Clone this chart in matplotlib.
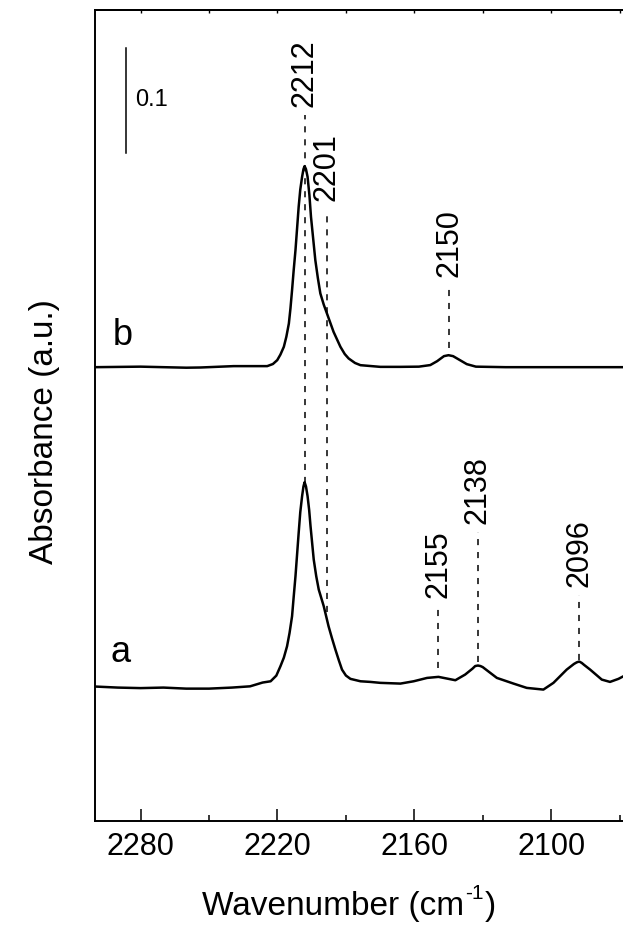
import matplotlib
matplotlib.use("Agg")
import matplotlib.pyplot as plt
from matplotlib.ticker import MultipleLocator

plt.rcParams["font.family"] = ["Liberation Sans", "DejaVu Sans"]

# spectrum a (baseline-corrected absorbance)
a_wn = [2300, 2290, 2280, 2270, 2260, 2250, 2240, 2232, 2226.5, 2223, 2220.5,
        2218.7, 2217.2, 2215.8, 2214.7, 2213.6, 2212.9, 2212.1, 2210.7, 2210.0,
        2209.2, 2208.6, 2208.1, 2207.5, 2206.8, 2206.1, 2205.5, 2204.1, 2203.0,
        2201.9, 2199.7, 2197.6, 2196.1, 2194.6, 2193.1, 2191.7, 2190.0, 2188.0,
        2183.6, 2179.3, 2174.9, 2166.1, 2160.3, 2154.4, 2149.4, 2145.7, 2142.0,
        2137.7, 2134.5, 2133.3, 2132.1, 2131.0, 2130.0, 2128.2, 2123.8, 2116.5,
        2110.7, 2103.4, 2099.0, 2093.2, 2090.0, 2088.8, 2087.7, 2086.6, 2085.5,
        2082.9, 2077.8, 2074.2, 2070.5, 2068.3]
a_abs = [0.001, 0.000, -0.0005, 0.000, -0.001, -0.001, 0.000, 0.0012, 0.0048,
         0.006, 0.0114, 0.0203, 0.0285, 0.0393, 0.052, 0.0679, 0.086, 0.106,
         0.1473, 0.167, 0.1822, 0.1915, 0.1955, 0.1915, 0.1822, 0.169, 0.1536,
         0.1219, 0.106, 0.0933, 0.0774, 0.0584, 0.047, 0.0362, 0.026, 0.0171,
         0.0115, 0.0083, 0.006, 0.0054, 0.0045, 0.0038, 0.006, 0.0092, 0.0102,
         0.0086, 0.007, 0.0124, 0.018, 0.0205, 0.021, 0.0205, 0.0195, 0.0165,
         0.0092, 0.0038, -0.0003, -0.0019, 0.0045, 0.0171, 0.0225, 0.024, 0.0248,
         0.0235, 0.0215, 0.0171, 0.0076, 0.0054, 0.0083, 0.0108]

# spectrum b
b_wn = [2300, 2280, 2260, 2253.7, 2239.2, 2224.5, 2222.0, 2220.1, 2218.7, 2217.2,
        2216.1, 2215.0, 2214.3, 2213.6, 2212.9, 2212.1, 2210.7, 2210.0, 2209.2,
        2208.6, 2208.1, 2207.5, 2206.8, 2206.0, 2205.3, 2203.4, 2202.3, 2201.2,
        2199.7, 2198.3, 2195.4, 2192.4, 2190.5, 2188.8, 2186.0, 2183.6, 2174.9,
        2166.1, 2158, 2153, 2150, 2147, 2145, 2143, 2140, 2137, 2133, 2120, 2100,
        2068]
b_abs = [0.0, 0.0005, -0.0005, -0.0003, 0.001, 0.001, 0.003, 0.0067, 0.012,
         0.0194, 0.029, 0.0416, 0.056, 0.0733, 0.092, 0.1114, 0.1527, 0.169,
         0.1812, 0.1885, 0.1914, 0.1885, 0.1812, 0.164, 0.1431, 0.1019, 0.085,
         0.0702, 0.0595, 0.0511, 0.0336, 0.0194, 0.0125, 0.0083, 0.004, 0.0019,
         0.0003, 0.0003, 0.0005, 0.002, 0.0057, 0.0105, 0.0114, 0.0105, 0.0067,
         0.0029, 0.0005, 0.0, 0.0, 0.0]

offset_a = 0.127
offset_b = 0.432

# peak markers: label, position, dashed line top / bottom
ann_labels = ["2212", "2201", "2150", "2155", "2138", "2096"]
ann_wn = [2208.1, 2198.3, 2144.7, 2149.4, 2132.1, 2087.7]
ann_top = [0.672, 0.582, 0.510, 0.204, 0.275, 0.215]
ann_bottom = [0.322, 0.199, 0.450, 0.146, 0.151, 0.153]

fig = plt.figure(figsize=(6.23, 9.26), dpi=100)
ax = fig.add_axes([95 / 623, 1 - 821 / 926, 1 - 95 / 623, 811 / 926])

ax.plot(a_wn, [v + offset_a for v in a_abs], color="black", lw=1.8)
ax.plot(b_wn, [v + offset_b for v in b_abs], color="black", lw=1.8)

for lab, wn, top, bot in zip(ann_labels, ann_wn, ann_top, ann_bottom):
    ax.plot([wn, wn], [bot, top], color="black", lw=1.1, ls=(0, (4, 4.5)))
    ax.text(wn, top + 0.008, lab, rotation=90, ha="center", va="bottom",
            fontsize=22)

# scale bar
ax.plot([2286.6, 2286.6], [0.636, 0.736], color="black", lw=1.1)
ax.text(2282.2, 0.686, "0.1", ha="left", va="center", fontsize=17)

ax.text(2293.1, 0.1514, "a", ha="left", va="baseline", fontsize=26)
ax.text(2292.3, 0.4533, "b", ha="left", va="baseline", fontsize=26)

ax.set_xlim(2300, 2068.5)
ax.set_ylim(0, 0.772)
ax.xaxis.set_major_locator(MultipleLocator(60))
ax.xaxis.set_minor_locator(MultipleLocator(30))
ax.tick_params(axis="x", which="major", direction="in", length=8.5, width=1.1,
               labelsize=22, pad=8)
ax.tick_params(axis="x", which="minor", direction="in", length=4.5, width=1.1)
ax.set_yticks([])
ax.spines["right"].set_visible(False)
for s in ["left", "top", "bottom"]:
    ax.spines[s].set_linewidth(1.4)

top_ax = ax.secondary_xaxis("top")
top_ax.set_xticks([2280, 2250, 2220, 2190, 2160, 2130, 2100, 2070])
top_ax.tick_params(direction="in", length=2, width=1, labeltop=False)
top_ax.spines["top"].set_linewidth(1.4)

# x label with a plain hyphen superscript, built from pieces
renderer = fig.canvas.get_renderer()
x0 = 202 / 623
yb = 1 - 915 / 926
t1 = fig.text(x0, yb, "Wavenumber (cm", ha="left", va="baseline", fontsize=24)
bb = t1.get_window_extent(renderer)
x1 = bb.x1 / fig.bbox.width
t2 = fig.text(x1 + 0.002, yb + 0.017, "-1", ha="left", va="baseline", fontsize=15)
bb2 = t2.get_window_extent(renderer)
fig.text(bb2.x1 / fig.bbox.width + 0.002, yb, ")", ha="left", va="baseline",
         fontsize=24)

fig.text(45 / 623, 1 - 432 / 926, "Absorbance (a.u.)", rotation=90,
         ha="center", va="center", fontsize=24)

fig.savefig("out.png", dpi=100)
